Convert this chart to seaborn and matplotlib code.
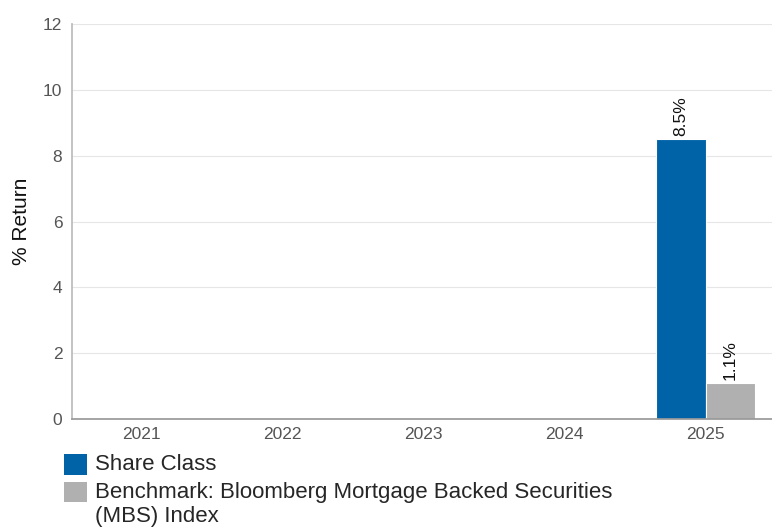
import matplotlib
matplotlib.use("Agg")
import matplotlib.pyplot as plt
from matplotlib.patches import Patch
import pandas as pd
import seaborn as sns

years = ["2021", "2022", "2023", "2024", "2025"]
share_class = [None, None, None, None, 8.5]
benchmark = [None, None, None, None, 1.1]
series_names = ["Share Class", "Benchmark: Bloomberg Mortgage Backed Securities\n(MBS) Index"]
colors = ["#0063a8", "#b0b0b0"]

rows = []
for name, vals in zip(series_names, [share_class, benchmark]):
    for y, v in zip(years, vals):
        if v is not None:
            rows.append({"year": y, "series": name, "value": v})
frame = pd.DataFrame(rows)

sns.set_theme(style="white")
plt.rcParams["font.family"] = ["Liberation Sans", "DejaVu Sans"]

fig = plt.figure(figsize=(7.72, 5.27), dpi=100)
ax = fig.add_axes([72 / 772, 108 / 527, 700 / 772, 395 / 527])
sns.barplot(data=frame, x="year", y="value", hue="series", order=years, hue_order=series_names,
            palette=colors, saturation=1, width=0.7, edgecolor="white", linewidth=0.8, ax=ax, legend=False)

for cont in ax.containers:
    ax.bar_label(cont, fmt="%.1f%%", rotation=90, padding=2, fontsize=12.5, color="#111111")

ax.set_ylim(0, 12)
ax.set_yticks(range(0, 13, 2))
ax.set_xlim(-0.49, 4.47)
ax.yaxis.grid(True, color="#e6e6e6", linewidth=0.8)
ax.set_axisbelow(True)
ax.set_xlabel("")
ax.set_ylabel("% Return", fontsize=15, color="#111111")
ax.yaxis.set_label_coords(-0.058, 0.5)
ax.tick_params(axis="both", labelsize=12.5, colors="#555555", length=0)
ax.tick_params(axis="y", pad=7)
ax.tick_params(axis="x", pad=6)
for s in ["top", "right"]:
    ax.spines[s].set_visible(False)
ax.spines["left"].set_color("#bbbbbb")
ax.spines["bottom"].set_color("#999999")

handles = [Patch(facecolor=c, edgecolor="none") for c in colors]
leg = fig.legend(handles, series_names, loc="upper left", bbox_to_anchor=(64 / 772, 1 - 454 / 527),
                 frameon=False, fontsize=16, handlelength=1.05, handleheight=1.05, handletextpad=0.35,
                 labelspacing=0.3, borderpad=0, borderaxespad=0)
# keep the square next to the first line of a wrapped label
for col in leg._legend_handle_box.get_children():
    for row in col.get_children():
        row.align = "top"

fig.savefig("out.png", dpi=100)
